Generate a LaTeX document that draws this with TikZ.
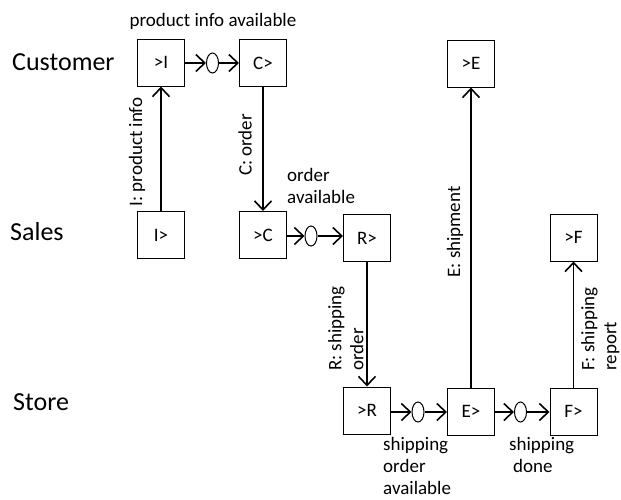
\documentclass[tikz,border=0pt]{standalone}
\usepackage{fontspec}
\setmainfont{Carlito}
\usetikzlibrary{arrows.meta,shapes.geometric}
\begin{document}
\begin{tikzpicture}[x=1pt,y=-1pt,
  box/.style={draw,line width=1pt,minimum width=47pt,minimum height=47pt,inner sep=0pt,font=\fontsize{19}{22}\selectfont},
  evt/.style={draw,ellipse,line width=1pt,minimum width=12pt,minimum height=20pt,inner sep=0pt},
  arr/.style={line width=1.6pt,-{Straight Barb[length=9pt,width=17pt,line width=1.6pt]}},
  lane/.style={font=\fontsize{26}{30}\selectfont,inner sep=0pt,anchor=base west},
  lbl/.style={font=\fontsize{19}{22}\selectfont,inner sep=0pt,align=left}]
\useasboundingbox (0,0) rectangle (621,499);
% lanes
\node[lane] (lc) at (12,70) {Customer};
\node[lane] (ls) at (10,240) {Sales};
\node[lane] (lst) at (13,410) {Store};
% customer row
\node[box] (cI) at (161,62.5) {>I};
\node[evt] (e1) at (212.5,63) {};
\node[box] (cC) at (263,63) {C>};
\node[box] (cE) at (471,63.5) {>E};
% sales row
\node[box] (sI) at (161,235) {I>};
\node[box] (sC) at (263,235) {>C};
\node[evt] (e2) at (311,236) {};
\node[box] (sR) at (367,238) {R>};
\node[box] (sF) at (573.5,237.5) {>F};
% store row
\node[box] (tR) at (367,410.5) {>R};
\node[evt] (e3) at (418,412) {};
\node[box] (tE) at (471,411.5) {E>};
\node[evt] (e4) at (520.5,412) {};
\node[box] (tF) at (573.5,411.5) {F>};
% horizontal arrows
\draw[arr] (cI.east |- e1.west) -- (e1.west);
\draw[arr] (e1.east) -- (e1.east -| cC.west);
\draw[arr] (sC.east |- e2.west) -- (e2.west);
\draw[arr] (e2.east) -- (e2.east -| sR.west);
\draw[arr] (tR.east |- e3.west) -- (e3.west);
\draw[arr] (e3.east) -- (e3.east -| tE.west);
\draw[arr] (tE.east |- e4.west) -- (e4.west);
\draw[arr] (e4.east) -- (e4.east -| tF.west);
% vertical arrows
\draw[arr] (sI.north) -- (cI.south);
\draw[arr] (cC.south) -- (sC.north);
\draw[arr] (sR.south) -- (tR.north);
\draw[arr] (tE.north) -- (cE.south);
\draw[arr] (tF.north) -- (sF.south);
% labels
\node[lbl,anchor=base] (t1) at (213,26) {product info available};
\node[lbl,anchor=north west] (t2) at (287,168) {order\\available};
\node[lbl,anchor=north west] (t3) at (383,437) {shipping\\order\\available};
\node[lbl,anchor=north west] (t4) at (509,437) {shipping\\\hspace*{4pt}done};
\node[lbl,rotate=90] (v1) at (137,152) {I: product info};
\node[lbl,rotate=90] (v2) at (245,145) {C: order};
\node[lbl,rotate=90,anchor=north west] (v3) at (328,371) {R: shipping\\order};
\node[lbl,rotate=90] (v4) at (455,232) {E: shipment};
\node[lbl,rotate=90,anchor=north west] (v5) at (581,371) {F: shipping\\report};
\end{tikzpicture}
\end{document}
